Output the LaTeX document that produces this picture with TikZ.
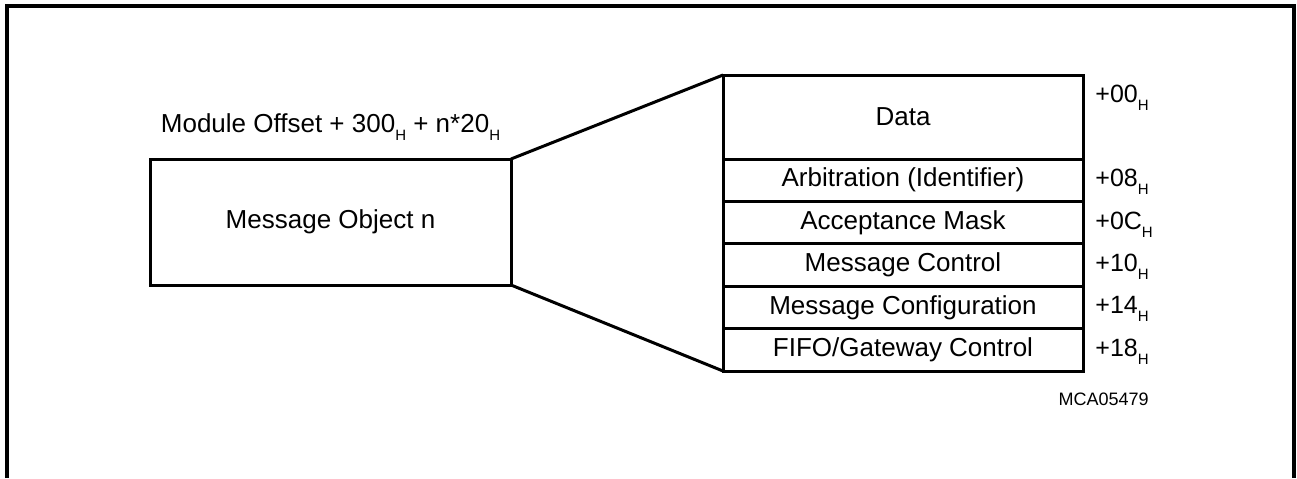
\documentclass[tikz,border=0pt]{standalone}
\usepackage{fontspec}
\setmainfont{Liberation Sans}
\usetikzlibrary{positioning}
\newcommand{\hsub}{\raisebox{-0.6ex}{\fontsize{7.5}{8}\selectfont H}}
\tikzset{
  objbox/.style={draw=black, line width=1.5pt, minimum width=180.5pt, minimum height=63pt, outer sep=0pt, align=center, font=\fontsize{13}{15}\selectfont},
  fieldbox/.style={draw=black, line width=1.5pt, minimum width=180pt, minimum height=21.2pt, inner sep=0pt, outer sep=0pt, align=center, font=\fontsize{13}{15}\selectfont},
  toplabel/.style={inner sep=0pt, font=\fontsize{13}{15}\selectfont},
  offlabel/.style={inner sep=0pt, font=\fontsize{12.5}{14}\selectfont},
  tag/.style={inner sep=0pt, font=\fontsize{9}{10}\selectfont},
  fan/.style={line width=1.5pt, draw=black},
  frame/.style={line width=1.6pt, draw=black}
}
\begin{document}
\begin{tikzpicture}[x=0.5pt, y=-0.5pt]
  \useasboundingbox (0,0) rectangle (1297,478);
  \draw[frame] (7,478) |- (1294,6) -- (1294,478);

  % message object
  \node[objbox] (msgobj) at (330.5,222) {Message Object n};
  \node[toplabel, above=9pt of msgobj] (base) {Module Offset + 300\hsub{} + n*20\hsub};

  % register fields
  \node[fieldbox, minimum height=42pt] (data) at (903,117) {Data};
  \node[fieldbox, below=0pt of data] (arbit) {Arbitration (Identifier)};
  \node[fieldbox, below=0pt of arbit] (accmask) {Acceptance Mask};
  \node[fieldbox, below=0pt of accmask] (msgctrl) {Message Control};
  \node[fieldbox, below=0pt of msgctrl] (msgconf) {Message Configuration};
  \node[fieldbox, below=0pt of msgconf] (fifoctrl) {FIFO/Gateway Control};

  % offsets
  \node[offlabel, below right=5pt and 6pt of data.north east] (off00) {+00\hsub};
  \node[offlabel, below right=5pt and 6pt of arbit.north east] (off08) {+08\hsub};
  \node[offlabel, below right=5pt and 6pt of accmask.north east] (off0c) {+0C\hsub};
  \node[offlabel, below right=5pt and 6pt of msgctrl.north east] (off10) {+10\hsub};
  \node[offlabel, below right=5pt and 6pt of msgconf.north east] (off14) {+14\hsub};
  \node[offlabel, below right=5pt and 6pt of fifoctrl.north east] (off18) {+18\hsub};

  \node[tag, below left=14pt and 0pt of off18.south east] (figid) {MCA05479};

  \draw[fan] (msgobj.north east) -- (data.north west);
  \draw[fan] (msgobj.south east) -- (fifoctrl.south west);
\end{tikzpicture}
\end{document}
